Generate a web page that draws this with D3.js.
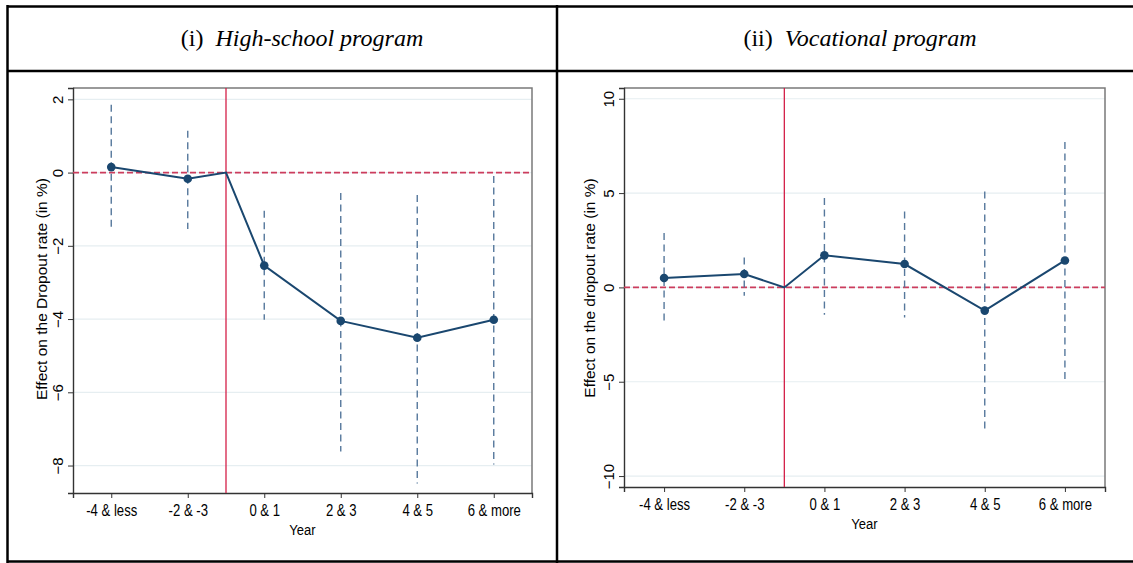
<!DOCTYPE html>
<html>
<head>
<meta charset="utf-8">
<script src="https://cdn.jsdelivr.net/npm/d3@7"></script>
<style>
  body { margin: 0; background: #fff; }
  svg { display: block; }
</style>
</head>
<body>
<div id="chart"></div>
<script>
// Categories on the x axis (event-time bins)
var categories = ["-4 & less", "-2 & -3", "0 & 1", "2 & 3", "4 & 5", "6 & more"];
// reference period sits between "-2 & -3" and "0 & 1"
var refIndex = 1.5;

// (i) High-school program
var hsEst = [0.15, -0.17, -2.54, -4.05, -4.51, -4.02];
var hsLow = [-1.57, -1.54, -4.02, -7.62, -8.49, -7.97];
var hsHigh = [1.85, 1.14, -1.04, -0.56, -0.61, -0.09];
var hsTicks = [2, 0, -2, -4, -6, -8];

// (ii) Vocational program
var voEst = [0.50, 0.71, 1.70, 1.24, -1.23, 1.43];
var voLow = [-1.89, -0.44, -1.45, -1.59, -7.63, -4.98];
var voHigh = [2.88, 1.59, 4.74, 4.03, 5.09, 7.71];
var voTicks = [10, 5, 0, -5, -10];

var svg = d3.select("#chart")
  .append("svg")
    .attr("width", 1133)
    .attr("height", 563);

// Table frame around the two panels
var frame = svg.append("g").attr("stroke", "#000").attr("stroke-width", 2.5);
frame.append("line").attr("x1", 7).attr("x2", 1133).attr("y1", 6.5).attr("y2", 6.5);
frame.append("line").attr("x1", 7).attr("x2", 1133).attr("y1", 71).attr("y2", 71);
frame.append("line").attr("x1", 7).attr("x2", 1133).attr("y1", 561.5).attr("y2", 561.5);
frame.append("line").attr("x1", 7.5).attr("x2", 7.5).attr("y1", 5).attr("y2", 563);
frame.append("line").attr("x1", 557).attr("x2", 557).attr("y1", 5).attr("y2", 563);

function header(cx, num, title) {
  var t = svg.append("text")
    .attr("x", cx)
    .attr("y", 46)
    .attr("text-anchor", "middle")
    .attr("font-family", "'Liberation Serif', 'Times New Roman', serif")
    .attr("font-size", "24px")
    .attr("fill", "#000");
  t.append("tspan").text(num + "\u00a0\u00a0");
  t.append("tspan").attr("font-style", "italic").text(title);
}
header(302, "(i)", "High-school program");
header(860, "(ii)", "Vocational program");

function panel(opt) {
  var g = svg.append("g");

  var x = d3.scaleLinear().domain([-0.5, 5.5]).range([opt.left, opt.right]);
  var y = d3.scaleLinear().domain(opt.yDomain).range([opt.bottom, opt.top]);

  // light gridlines
  g.append("g").selectAll("line")
    .data(opt.ticks)
    .enter().append("line")
      .attr("x1", opt.left).attr("x2", opt.right)
      .attr("y1", function(d) { return y(d); })
      .attr("y2", function(d) { return y(d); })
      .attr("stroke", "#e6eef1")
      .attr("stroke-width", 1.2);

  // plot region frame (top/right in grey)
  g.append("path")
    .attr("d", "M" + opt.left + "," + opt.top + "H" + opt.right + "V" + opt.bottom)
    .attr("fill", "none")
    .attr("stroke", "#7a7a7a")
    .attr("stroke-width", 1.5);

  // Y axis
  var yAxis = g.append("g")
    .attr("transform", "translate(" + opt.left + ",0)")
    .call(d3.axisLeft(y).tickValues(opt.ticks).tickSize(5).tickFormat(d3.format("d")));
  yAxis.select(".domain").attr("stroke", "#333").attr("stroke-width", 1.4);
  yAxis.selectAll(".tick line").attr("stroke", "#333");
  yAxis.selectAll(".tick text")
    .attr("font-family", "'Liberation Sans', Arial, sans-serif")
    .attr("font-size", "15px")
    .attr("fill", "#000")
    .attr("text-anchor", "middle")
    .attr("x", 0)
    .attr("dy", 0)
    .attr("transform", "translate(-10,0) rotate(-90)")
    .attr("y", 0);

  // X axis, labels squeezed to look like a narrow face
  var xAxis = g.append("g")
    .attr("transform", "translate(0," + opt.bottom + ")")
    .call(d3.axisBottom(x).tickValues(d3.range(categories.length)).tickSize(5)
      .tickFormat(function(i) { return categories[i]; }));
  xAxis.select(".domain").attr("stroke", "#333").attr("stroke-width", 1.4);
  xAxis.selectAll(".tick line").attr("stroke", "#333");
  xAxis.selectAll(".tick text")
    .attr("font-family", "'Liberation Sans', Arial, sans-serif")
    .attr("font-size", "16px")
    .attr("fill", "#000")
    .attr("y", 12)
    .attr("dy", "0.71em")
    .attr("transform", "scale(0.82,1)");

  // axis titles
  g.append("text")
    .attr("transform", "translate(" + ((opt.left + opt.right) / 2) + "," + (opt.bottom + 42) + ") scale(0.84,1)")
    .attr("text-anchor", "middle")
    .attr("font-family", "'Liberation Sans', Arial, sans-serif")
    .attr("font-size", "15.5px")
    .text("Year");

  g.append("text")
    .attr("transform", "translate(" + opt.titleX + "," + opt.titleY + ") rotate(-90)")
    .attr("text-anchor", "middle")
    .attr("font-family", "'Liberation Sans', Arial, sans-serif")
    .attr("font-size", "15.5px")
    .text(opt.yTitle);

  // reference lines
  g.append("line")
    .attr("x1", opt.left).attr("x2", opt.right)
    .attr("y1", y(0)).attr("y2", y(0))
    .attr("stroke", "#cc3d5d")
    .attr("stroke-width", 1.8)
    .attr("stroke-dasharray", "6,3");
  g.append("line")
    .attr("x1", x(refIndex)).attr("x2", x(refIndex))
    .attr("y1", opt.top).attr("y2", opt.bottom)
    .attr("stroke", "#d41f48")
    .attr("stroke-width", 1.3);

  var rows = categories.map(function(c, i) {
    return { i: i, est: opt.est[i], lo: opt.lo[i], hi: opt.hi[i] };
  });

  // confidence intervals (dashed)
  g.append("g").selectAll("line")
    .data(rows)
    .enter().append("line")
      .attr("x1", function(d) { return x(d.i); })
      .attr("x2", function(d) { return x(d.i); })
      .attr("y1", function(d) { return y(d.hi); })
      .attr("y2", function(d) { return y(d.lo); })
      .attr("stroke", "#56789c")
      .attr("stroke-width", 1.4)
      .attr("stroke-dasharray", "7,4.5");

  // estimates line, passing through the reference point at 0
  var linePts = rows.slice(0, 2).map(function(d) { return [d.i, d.est]; })
    .concat([[refIndex, 0]])
    .concat(rows.slice(2).map(function(d) { return [d.i, d.est]; }));
  g.append("path")
    .datum(linePts)
    .attr("fill", "none")
    .attr("stroke", "#1a476f")
    .attr("stroke-width", 2)
    .attr("d", d3.line()
      .x(function(d) { return x(d[0]); })
      .y(function(d) { return y(d[1]); }));

  g.append("g").selectAll("circle")
    .data(rows)
    .enter().append("circle")
      .attr("cx", function(d) { return x(d.i); })
      .attr("cy", function(d) { return y(d.est); })
      .attr("r", 4.3)
      .attr("fill", "#1a476f");
}

panel({
  left: 73, right: 532, top: 88, bottom: 493,
  yDomain: [-8.75, 2.31], ticks: hsTicks,
  est: hsEst, lo: hsLow, hi: hsHigh,
  titleX: 47, titleY: 289, yTitle: "Effect on the Dropout rate (in %)"
});

panel({
  left: 624, right: 1105, top: 88, bottom: 487,
  yDomain: [-10.58, 10.57], ticks: voTicks,
  est: voEst, lo: voLow, hi: voHigh,
  titleX: 595, titleY: 288, yTitle: "Effect on the dropout rate (in %)"
});
</script>
</body>
</html>
